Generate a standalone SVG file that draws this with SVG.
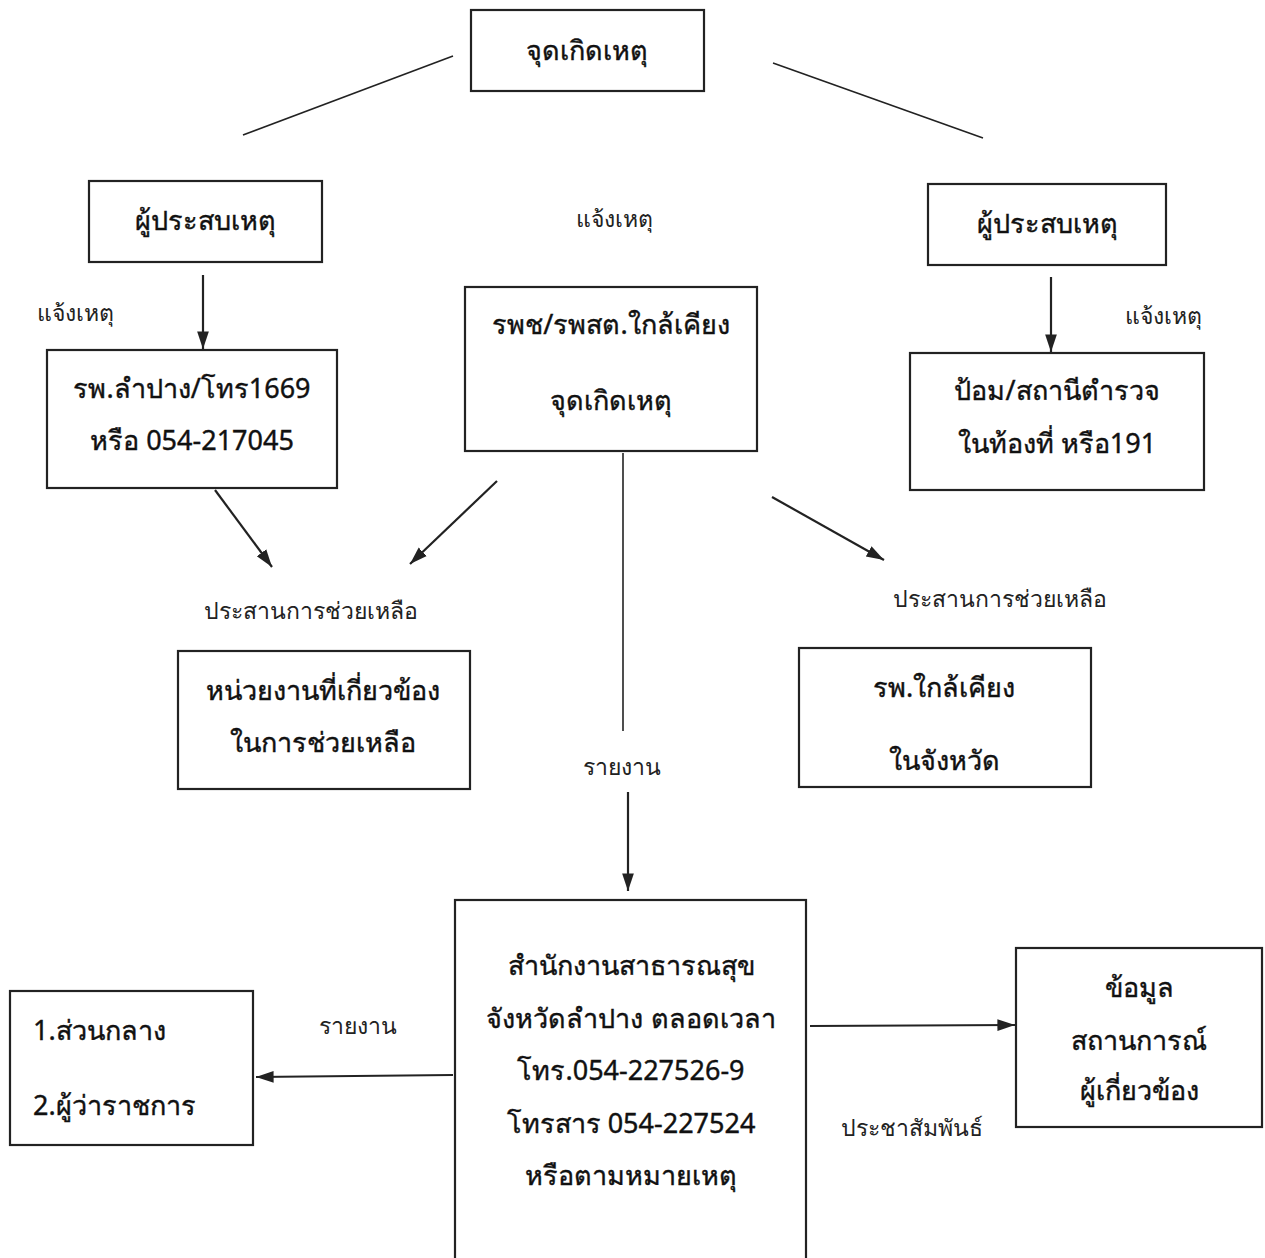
<svg xmlns="http://www.w3.org/2000/svg" width="1265" height="1258" viewBox="0 0 1265 1258">
<style>
.box{fill:#fff;stroke:#222;stroke-width:2.2}
.bt{font-family:"Noto Sans","DejaVu Sans",sans-serif;font-size:27px;fill:#111;stroke:#111;stroke-width:0.4;text-anchor:middle}
.lb{font-family:"Noto Sans","DejaVu Sans",sans-serif;font-size:23px;fill:#222;text-anchor:middle}
.ln{stroke:#222;stroke-width:1.6;fill:none}
.ar{stroke:#222;stroke-width:2.2;fill:none;marker-end:url(#ah)}
</style>
<defs>
<marker id="ah" viewBox="0 0 12 10" refX="12" refY="5" markerWidth="8" markerHeight="7" markerUnits="strokeWidth" orient="auto">
<path d="M0,1 L12,5 L0,9 z" fill="#222"/>
</marker>
</defs>
<rect width="1265" height="1258" fill="#fff"/>
<g id="connectors">
<line class="ln" x1="453" y1="56" x2="243" y2="135"/>
<line class="ln" x1="773" y1="63" x2="983" y2="138"/>
<line class="ar" x1="203" y1="275" x2="203" y2="349"/>
<line class="ar" x1="1051" y1="277" x2="1051" y2="352"/>
<line class="ar" x1="215" y1="490" x2="272" y2="567"/>
<line class="ar" x1="497" y1="481" x2="410" y2="564"/>
<line class="ar" x1="772" y1="497" x2="884" y2="560"/>
<line class="ln" x1="623" y1="453" x2="623" y2="731"/>
<line class="ar" x1="628" y1="792" x2="628" y2="891"/>
<line class="ar" x1="453" y1="1075" x2="256" y2="1077"/>
<line class="ar" x1="810" y1="1026" x2="1015" y2="1025"/>
</g>
<g id="labels">
<text class="lb" x="614" y="227">แจ้งเหตุ</text>
<text class="lb" x="75" y="321">แจ้งเหตุ</text>
<text class="lb" x="1163" y="324">แจ้งเหตุ</text>
<text class="lb" x="311" y="619">ประสานการช่วยเหลือ</text>
<text class="lb" x="1000" y="607">ประสานการช่วยเหลือ</text>
<text class="lb" x="622" y="775">รายงาน</text>
<text class="lb" x="358" y="1034">รายงาน</text>
<text class="lb" x="912" y="1136">ประชาสัมพันธ์</text>
</g>
<g id="n1"><rect class="box" x="471" y="10" width="233" height="81"/><text class="bt" x="587" y="60">จุดเกิดเหตุ</text></g>
<g id="n2"><rect class="box" x="89" y="181" width="233" height="81"/><text class="bt" x="205" y="230">ผู้ประสบเหตุ</text></g>
<g id="n3"><rect class="box" x="928" y="184" width="238" height="81"/><text class="bt" x="1047" y="233">ผู้ประสบเหตุ</text></g>
<g id="n4"><rect class="box" x="47" y="350" width="290" height="138"/><text class="bt" x="192" y="398">รพ.ลำปาง/โทร1669</text><text class="bt" x="192" y="450">หรือ 054-217045</text></g>
<g id="n5"><rect class="box" x="465" y="287" width="292" height="164"/><text class="bt" x="611" y="334">รพช/รพสต.ใกล้เคียง</text><text class="bt" x="611" y="410">จุดเกิดเหตุ</text></g>
<g id="n6"><rect class="box" x="910" y="353" width="294" height="137"/><text class="bt" x="1057" y="400">ป้อม/สถานีตำรวจ</text><text class="bt" x="1057" y="453">ในท้องที่ หรือ191</text></g>
<g id="n7"><rect class="box" x="178" y="651" width="292" height="138"/><text class="bt" x="323" y="700">หน่วยงานที่เกี่ยวข้อง</text><text class="bt" x="323" y="752">ในการช่วยเหลือ</text></g>
<g id="n8"><rect class="box" x="799" y="648" width="292" height="139"/><text class="bt" x="944" y="697">รพ.ใกล้เคียง</text><text class="bt" x="944" y="770">ในจังหวัด</text></g>
<g id="n9"><rect class="box" x="455" y="900" width="351" height="362"/>
<text class="bt" x="631" y="975">สำนักงานสาธารณสุข</text>
<text class="bt" x="631" y="1028">จังหวัดลำปาง ตลอดเวลา</text>
<text class="bt" x="631" y="1080">โทร.054-227526-9</text>
<text class="bt" x="631" y="1133">โทรสาร 054-227524</text>
<text class="bt" x="631" y="1185">หรือตามหมายเหตุ</text></g>
<g id="n10"><rect class="box" x="10" y="991" width="243" height="154"/><text class="bt" x="33" y="1040" style="text-anchor:start">1.ส่วนกลาง</text><text class="bt" x="33" y="1115" style="text-anchor:start">2.ผู้ว่าราชการ</text></g>
<g id="n11"><rect class="box" x="1016" y="948" width="246" height="179"/><text class="bt" x="1139" y="997">ข้อมูล</text><text class="bt" x="1139" y="1050">สถานการณ์</text><text class="bt" x="1139" y="1100">ผู้เกี่ยวข้อง</text></g>
</svg>
